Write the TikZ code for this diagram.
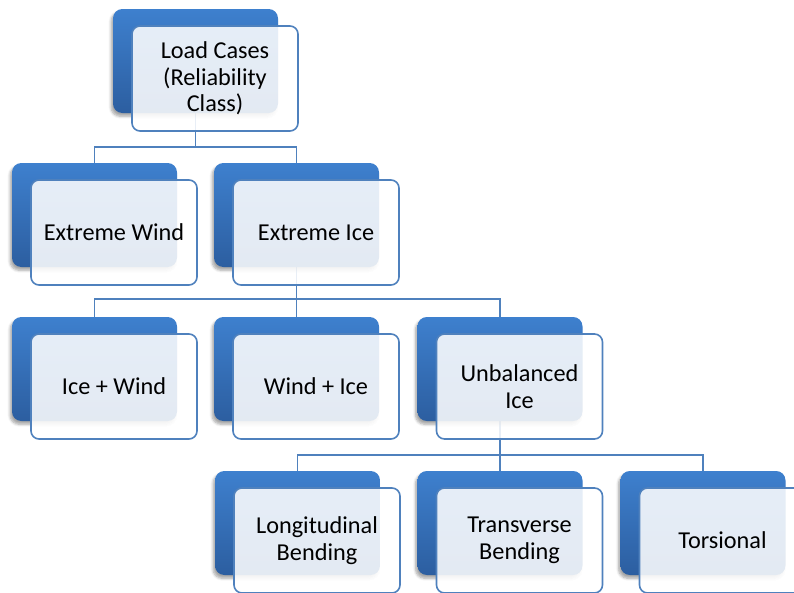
\documentclass[tikz,border=0pt]{standalone}
\usepackage{fontspec}
\setmainfont{Carlito}
\usetikzlibrary{shadows.blur}
\pgfdeclarelayer{links}
\pgfsetlayers{links,main}
\definecolor{lineblue}{RGB}{79,129,189}
\definecolor{topblue}{RGB}{62,128,206}
\definecolor{botblue}{RGB}{44,94,160}
\tikzset{
  backbox/.style={rectangle, rounded corners=7pt, inner sep=0pt,
    minimum width=123.75pt, minimum height=78pt,
    top color=topblue, bottom color=botblue, draw=none,
    blur shadow={shadow xshift=-1.5pt, shadow yshift=-2.5pt,
      shadow blur steps=6, shadow opacity=35}},
  textbox/.style={rectangle, rounded corners=6pt, inner sep=0pt,
    minimum width=124.5pt, minimum height=78.75pt,
    fill=white, fill opacity=0.87, text opacity=1,
    draw=lineblue, line width=1.2pt, align=center,
    font=\fontsize{18.2}{20}\selectfont},
  link/.style={draw=lineblue, line width=1.2pt}
}
\newcommand{\card}[3]{%
  \node[backbox] (#1) at (#2) {};
  \node[textbox] (#1t) at ([shift={(19.5,17.5)}]#1.center) {#3};
}
\begin{document}
\begin{tikzpicture}[x=0.75pt,y=-0.75pt]
  \useasboundingbox (0,0) rectangle (794,593);
  \clip (0,0) rectangle (794,593);

  % root
  \card{lc}{195.5,61}{Load Cases\\(Reliability\\Class)}
  % second level
  \card{ew}{94.5,215}{Extreme Wind}
  \card{ei}{296.5,215}{Extreme Ice}
  % third level
  \card{iw}{94.5,369}{Ice + Wind}
  \card{wi}{296.5,369}{Wind + Ice}
  \card{ub}{500,369}{Unbalanced\\Ice}
  % fourth level
  \card{lb}{297.5,523}{Longitudinal\\Bending}
  \card{tb}{500,523}{Transverse\\Bending}
  \card{to}{703,523}{Torsional}

  % elbow connectors between levels
  \begin{pgfonlayer}{links}
    \draw[link] (lc.south) -- ++(0,34) -| (ew.north);
    \draw[link] (lc.south) -- ++(0,34) -| (ei.north);
    \draw[link] (ei.south) -- ++(0,32) -| (iw.north);
    \draw[link] (ei.south) -- ++(0,32) -| (wi.north);
    \draw[link] (ei.south) -- ++(0,32) -| (ub.north);
    \draw[link] (ub.south) -- ++(0,34) -| (lb.north);
    \draw[link] (ub.south) -- ++(0,34) -| (tb.north);
    \draw[link] (ub.south) -- ++(0,34) -| (to.north);
  \end{pgfonlayer}
\end{tikzpicture}
\end{document}
